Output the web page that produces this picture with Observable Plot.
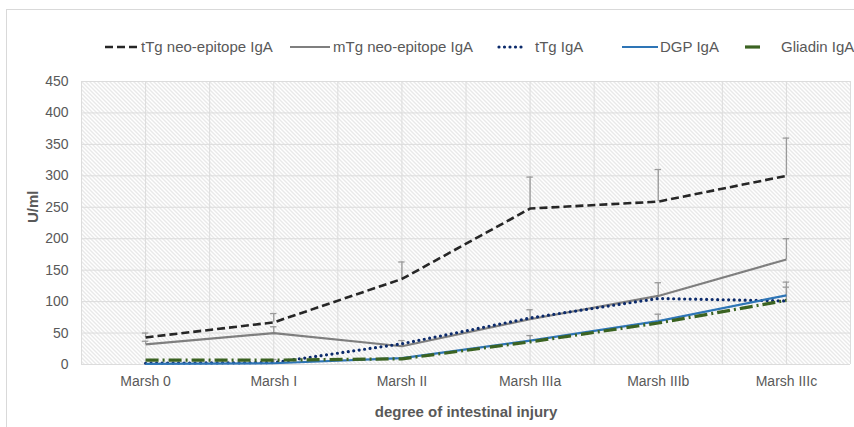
<!DOCTYPE html>
<html><head><meta charset="utf-8">
<script src="https://cdn.jsdelivr.net/npm/d3@7"></script>
<script src="https://cdn.jsdelivr.net/npm/@observablehq/plot@0.6"></script>
<style>
body{margin:0;background:#fff;font-family:"Liberation Sans",Arial,sans-serif;}
#wrap{position:relative;width:854px;height:427px;overflow:hidden;background:#fff;}
#frame{position:absolute;left:6px;top:9px;width:900px;height:500px;border-left:1px solid #d9d9d9;border-top:1px solid #d9d9d9;}
#legend{position:absolute;top:37px;left:0;width:854px;height:20px;font-size:15px;color:#595959;}
.sw{position:absolute;top:5px;}
.lt{position:absolute;top:0;height:20px;line-height:20px;white-space:nowrap;}
#chart{position:absolute;left:0;top:0;}
</style></head>
<body>
<div id="wrap"><div id="frame"></div><div id="chart"></div><div id="legend"></div></div>
<script>
// ---- data ----
const categories = ["Marsh 0", "Marsh I", "Marsh II", "Marsh IIIa", "Marsh IIIb", "Marsh IIIc"];
const yTicks = [0, 50, 100, 150, 200, 250, 300, 350, 400, 450];
const seriesNames = ["tTg neo-epitope IgA", "mTg neo-epitope IgA", "tTg IgA", "DGP IgA", "Gliadin IgA"];
const tTgNeo     = [43, 67, 136, 248, 259, 300];
const tTgNeoErr  = [7, 14, 27, 50, 51, 60];
const mTgNeo     = [32, 50, 29, 72, 109, 167];
const mTgNeoErr  = [5, 10, 9, 15, 21, 33];
const tTgIgA     = [2, 3, 33, 74, 105, 101];
const tTgIgAErr  = [null, 5, null, null, null, 30];
const dgpIgA     = [1, 2, 10, 38, 69, 110];
const dgpIgAErr  = [null, null, null, 8, 11, 13];
const gliadinIgA = [7, 7, 9, 36, 66, 102];
const gliadinErr = [null, null, null, null, null, null];

// ---- styles ----
const styles = [
  {stroke:"#262626", strokeWidth:2.6, dash:"8,4", cap:"butt"},
  {stroke:"#7f7f7f", strokeWidth:2.2, dash:null, cap:"butt"},
  {stroke:"#0b2a6b", strokeWidth:3.2, dash:"0,5.5", cap:"round"},
  {stroke:"#2e75b6", strokeWidth:2.2, dash:null, cap:"butt"},
  {stroke:"#3b6322", strokeWidth:3.2, dash:"13,4,2,4", cap:"butt"}
];
const values = [tTgNeo, mTgNeo, tTgIgA, dgpIgA, gliadinIgA];
const errs = [tTgNeoErr, mTgNeoErr, tTgIgAErr, dgpIgAErr, gliadinErr];

const rows = [];
const errRows = [];
values.forEach((arr, s) => arr.forEach((v, i) => {
  rows.push({series: seriesNames[s], i, v});
  const e = errs[s][i];
  if (e != null) errRows.push({series: seriesNames[s], i, v, top: v + e});
}));

const lineMarks = seriesNames.map((name, s) =>
  Plot.line(rows.filter(d => d.series === name), {
    x: "i", y: "v", stroke: styles[s].stroke, strokeWidth: styles[s].strokeWidth,
    strokeDasharray: styles[s].dash, strokeLinecap: styles[s].cap, strokeLinejoin: "round"
  })
);

const gridXs = d3.range(-0.5, categories.length, 0.5);

const chart = Plot.plot({
  width: 854, height: 427,
  marginLeft: 81, marginRight: 4, marginTop: 81, marginBottom: 63,
  style: {fontFamily: '"Liberation Sans", Arial, sans-serif', color: "#595959", background: "transparent"},
  x: {type: "linear", domain: [-0.5, categories.length - 0.5], axis: null},
  y: {domain: [0, 450], axis: null},
  marks: [
    Plot.frame({fill: "url(#hatch)", stroke: null}),
    Plot.ruleY(yTicks, {stroke: "#dcdcdc", strokeWidth: 1}),
    Plot.ruleX(gridXs, {stroke: "#dcdcdc", strokeWidth: 1}),
    Plot.ruleX(errRows, {x: "i", y1: "v", y2: "top", stroke: "#9a9a9a", strokeWidth: 1.3}),
    Plot.ruleY(errRows, {y: "top", x1: d => d.i - 0.025, x2: d => d.i + 0.025, stroke: "#9a9a9a", strokeWidth: 1.3}),
    ...lineMarks,
    Plot.text(d3.range(categories.length), {x: d => d, text: d => categories[d], frameAnchor: "bottom", dy: 21, fontSize: 14, fill: "#595959"}),
    Plot.text(yTicks, {y: d => d, text: d => String(d), frameAnchor: "left", dx: -13, textAnchor: "end", fontSize: 14, fill: "#595959"}),
    Plot.text(["degree of intestinal injury"], {frameAnchor: "bottom", dy: 52, fontSize: 15, fontWeight: "bold", fill: "#595959"}),
    Plot.text(["U/ml"], {frameAnchor: "left", dx: -48, rotate: -90, fontSize: 15, fontWeight: "bold", fill: "#595959", dy: 0})
  ]
});

// hatch pattern
const ns = "http://www.w3.org/2000/svg";
const defs = document.createElementNS(ns, "defs");
defs.innerHTML = `<pattern id="hatch" patternUnits="userSpaceOnUse" width="4" height="4">
  <rect width="4" height="4" fill="#ffffff"/>
  <path d="M0,0 L4,4 M-1,3 L1,5 M3,-1 L5,1" stroke="#cdcdcd" stroke-width="0.9"/>
</pattern>`;
chart.insertBefore(defs, chart.firstChild);
document.getElementById("chart").appendChild(chart);

// legend
const swatchX = [105, 290, 497, 622, 745];
const swatchW = [35, 40, 28, 36, 15];
const textX = [141, 333, 535, 660, 781];
const leg = document.getElementById("legend");
seriesNames.forEach((name, s) => {
  const st = styles[s];
  const w = swatchW[s];
  const round = st.cap === "round";
  const dash = s === 4 ? "none" : (st.dash || "none");
  const sw = document.createElement("div");
  sw.className = "sw";
  sw.style.left = swatchX[s] + "px";
  sw.innerHTML = `<svg width="${w}" height="10" style="display:block"><line x1="${round ? 2 : 0}" y1="5" x2="${w - (round ? 2 : 0)}" y2="5" stroke="${st.stroke}" stroke-width="${st.strokeWidth}" stroke-dasharray="${dash}" stroke-linecap="${st.cap}"/></svg>`;
  leg.appendChild(sw);
  const t = document.createElement("div");
  t.className = "lt";
  t.style.left = textX[s] + "px";
  t.textContent = name;
  leg.appendChild(t);
});
</script>
</body></html>
